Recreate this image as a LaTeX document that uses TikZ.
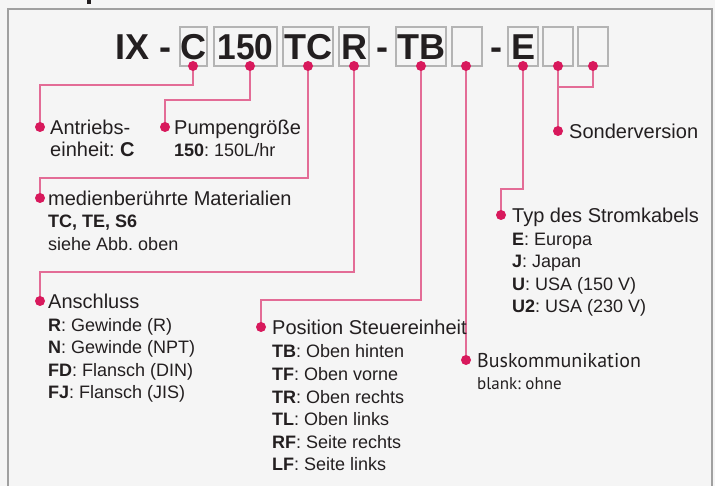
\documentclass[tikz,border=0pt]{standalone}
\usepackage{fontspec}
\setmainfont{Liberation Sans}
\newfontfamily\busfont{PT Sans}
\frenchspacing
\definecolor{bg}{HTML}{F5F5F5}
\definecolor{framec}{HTML}{A0A0A0}
\definecolor{boxc}{HTML}{B4B4B4}
\definecolor{txt}{HTML}{231F20}
\definecolor{dotc}{HTML}{D8195C}
\definecolor{linec}{HTML}{E36C96}
\tikzset{
  dot/.style={circle,fill=dotc,inner sep=0pt,minimum size=10pt},
  conn/.style={draw=linec,line width=1.4pt},
  codebox/.style={draw=boxc,line width=1.1pt,fill=bg},
  big/.style={font=\fontsize{36}{40}\selectfont\bfseries,text=txt,anchor=base,inner sep=0pt},
  head/.style={font=\fontsize{20}{24}\selectfont,text=txt,anchor=base west,inner sep=0pt},
  item/.style={font=\fontsize{18}{22}\selectfont,text=txt,anchor=base west,inner sep=0pt},
  bushead/.style={font=\busfont\fontsize{20}{24}\selectfont,text=txt,anchor=base west,inner sep=0pt},
  busitem/.style={font=\busfont\fontsize{17}{20}\selectfont,text=txt,anchor=base west,inner sep=0pt}
}
\begin{document}
\begin{tikzpicture}[x=1pt,y=-1pt]
\useasboundingbox (0,0) rectangle (715,486);
\fill[bg] (0,0) rectangle (715,486);
\fill[txt] (87,0) rectangle (91,4);
\draw[framec,line width=2.2pt] (8,9) rectangle (712,520);
% code boxes
\draw[codebox] (180,27) rectangle (207,66);
\draw[codebox] (214,27) rectangle (277,66);
\draw[codebox] (283,27) rectangle (333,66);
\draw[codebox] (339,27) rectangle (369,66);
\draw[codebox] (396,27) rectangle (446,66);
\draw[codebox] (452,27) rectangle (482,66);
\draw[codebox] (508,27) rectangle (538,66);
\draw[codebox] (543,27) rectangle (573,66);
\draw[codebox] (578,27) rectangle (608,66);
\node[big,anchor=base west] (tIX) at (115,60) {IX};
\node[big] (tH1) at (165,60) {-};
\node[big] (tC) at (193.5,60) {C};
\node[big,xscale=0.93] (t150) at (245.5,60) {150};
\node[big] (tTC) at (308,60) {TC};
\node[big] (tR) at (354,60) {R};
\node[big] (tH2) at (382.5,60) {-};
\node[big] (tTB) at (421,60) {TB};
\node[big] (tH3) at (496.5,60) {-};
\node[big] (tE) at (523,60) {E};
% connectors
\coordinate (cC1) at (193,85);   \coordinate (cC2) at (40,85);
\coordinate (c150a) at (250,100); \coordinate (c150b) at (165,100);
\coordinate (cTC1) at (308,178); \coordinate (cTC2) at (40,178);
\coordinate (cR1) at (354,272);  \coordinate (cR2) at (40,272);
\coordinate (cTB1) at (421,300); \coordinate (cTB2) at (261,300);
\coordinate (cE1) at (523,189);  \coordinate (cE2) at (501,189);
\coordinate (cS1) at (593,87);   \coordinate (cS2) at (558,87);
\coordinate (dC) at (193,66);
\coordinate (d150) at (250,66);
\coordinate (dTC) at (308,66);
\coordinate (dR) at (354,66);
\coordinate (dTB) at (421,66);
\coordinate (dB1) at (466,66);
\coordinate (dE) at (523,66);
\coordinate (dB2) at (558,66);
\coordinate (dB3) at (593,66);
\coordinate (lAnt) at (40,127);
\coordinate (lPum) at (165,127);
\coordinate (lMed) at (40,198);
\coordinate (lAns) at (40,301);
\coordinate (lPos) at (261,327);
\coordinate (lBus) at (466,360);
\coordinate (lTyp) at (501,215);
\coordinate (lSon) at (558,131);
\draw[conn] (dC) -- (cC1) -- (cC2) -- (lAnt);
\draw[conn] (d150) -- (c150a) -- (c150b) -- (lPum);
\draw[conn] (dTC) -- (cTC1) -- (cTC2) -- (lMed);
\draw[conn] (dR) -- (cR1) -- (cR2) -- (lAns);
\draw[conn] (dTB) -- (cTB1) -- (cTB2) -- (lPos);
\draw[conn] (dB1) -- (lBus);
\draw[conn] (dE) -- (cE1) -- (cE2) -- (lTyp);
\draw[conn] (dB3) -- (cS1) -- (cS2);
\draw[conn] (dB2) -- (lSon);
\foreach \p in {dC,d150,dTC,dR,dTB,dB1,dE,dB2,dB3,lAnt,lPum,lMed,lAns,lPos,lBus,lTyp,lSon}
  \node[dot] at (\p) {};
% labels
\node[head] (ant1) at (50,135) {Antriebs-};
\node[head] (ant2) at (50,157) {einheit: \textbf{C}};
\node[head] (pum1) at (174,135) {Pumpengröße};
\node[item] (pum2) at (174,157) {\textbf{150}: 150L/hr};
\node[head] (med1) at (48,206) {medienberührte Materialien};
\node[item] (med2) at (48,228) {\textbf{TC, TE, S6}};
\node[item] (med3) at (48,251) {siehe Abb. oben};
\node[head] (ans0) at (48,309) {Anschluss};
\node[item] (ans1) at (48,332) {\textbf{R}: Gewinde (R)};
\node[item] (ans2) at (48,354) {\textbf{N}: Gewinde (NPT)};
\node[item] (ans3) at (48,377) {\textbf{FD}: Flansch (DIN)};
\node[item] (ans4) at (48,399) {\textbf{FJ}: Flansch (JIS)};
\node[head] (pos0) at (272,335) {Position Steuereinheit};
\node[item] (pos1) at (272,357) {\textbf{TB}: Oben hinten};
\node[item] (pos2) at (272,380) {\textbf{TF}: Oben vorne};
\node[item] (pos3) at (272,403) {\textbf{TR}: Oben rechts};
\node[item] (pos4) at (272,425) {\textbf{TL}: Oben links};
\node[item] (pos5) at (272,448) {\textbf{RF}: Seite rechts};
\node[item] (pos6) at (272,470) {\textbf{LF}: Seite links};
\node[bushead] (bus0) at (477,367) {Buskommunikation};
\node[busitem] (bus1) at (477,389) {blank: ohne};
\node[head] (son0) at (569,139) {Sonderversion};
\node[head] (typ0) at (512,223) {Typ des Stromkabels};
\node[item] (typ1) at (512,246) {\textbf{E}: Europa};
\node[item] (typ2) at (512,268) {\textbf{J}: Japan};
\node[item] (typ3) at (512,291) {\textbf{U}: USA (150 V)};
\node[item] (typ4) at (512,313) {\textbf{U2}: USA (230 V)};
\end{tikzpicture}
\end{document}
